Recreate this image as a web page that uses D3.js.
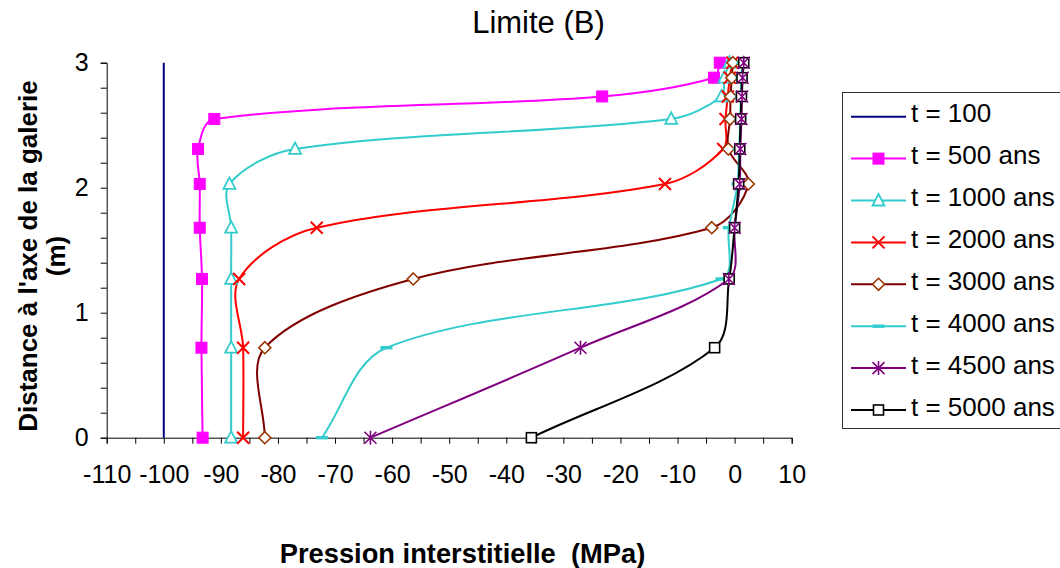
<!DOCTYPE html>
<html>
<head>
<meta charset="utf-8">
<script src="https://cdn.jsdelivr.net/npm/d3@7"></script>
<style>
  html, body { margin: 0; padding: 0; background: #fff; }
  svg { display: block; }
  text { font-family: "Liberation Sans", Arial, sans-serif; fill: #000; }
</style>
</head>
<body>
<svg id="chart" width="1060" height="568"></svg>
<script>
// ---------- DATA ----------
const nodeY = [0, 0.72, 1.27, 1.68, 2.03, 2.31, 2.55, 2.73, 2.88, 3.0];
const seriesNames = ["t = 100", "t = 500 ans", "t = 1000 ans", "t = 2000 ans",
                     "t = 3000 ans", "t = 4000 ans", "t = 4500 ans", "t = 5000 ans"];
const t100X = [-100, -100];
const t100Y = [0, 3];
const t500  = [-93.2, -93.4, -93.3, -93.7, -93.7, -94.0, -91.15, -23.2, -3.6, -2.6];
const t1000 = [-88.2, -88.2, -88.2, -88.2, -88.5, -77.0, -11.1, -2.3, -1.8, -0.9];
const t2000 = [-86.1, -86.1, -86.8, -73.2, -12.2, -2.0, -1.6, -1.2, -0.85, -0.4];
const t3000 = [-82.3, -82.3, -56.3, -4.0, 2.4, -1.1, -0.8, -0.7, -0.5, -0.3];
const t4000 = [-72.3, -61.0, -2.3, -1.0, 0.5, 0.8, 1.0, 1.1, 1.2, 1.4];
const t4500 = [-63.8, -27.0, -1.0, 0.0, 0.9, 1.0, 1.2, 1.3, 1.4, 1.6];
const t5000 = [-35.6, -3.5, -0.95, 0.0, 0.7, 0.9, 1.05, 1.2, 1.3, 1.6];
const xTicks = [-110, -100, -90, -80, -70, -60, -50, -40, -30, -20, -10, 0, 10];
const yTicks = [0, 1, 2, 3];

// ---------- STYLE ----------
const styles = [
  {line: "#000080", marker: null},
  {line: "#FF00FF", marker: "fsquare", mc: "#FF00FF"},
  {line: "#33CCCC", marker: "triangle", mc: "#33CCCC"},
  {line: "#FF0000", marker: "x", mc: "#FF0000"},
  {line: "#800000", marker: "diamond", mc: "#993300"},
  {line: "#33CCCC", marker: "dash", mc: "#33CCCC"},
  {line: "#800080", marker: "star", mc: "#800080"},
  {line: "#000000", marker: "hsquare", mc: "#000000"}
];

const series = [
  t100X.map((v, i) => [v, t100Y[i]]),
  t500.map((v, i) => [v, nodeY[i]]),
  t1000.map((v, i) => [v, nodeY[i]]),
  t2000.map((v, i) => [v, nodeY[i]]),
  t3000.map((v, i) => [v, nodeY[i]]),
  t4000.map((v, i) => [v, nodeY[i]]),
  t4500.map((v, i) => [v, nodeY[i]]),
  t5000.map((v, i) => [v, nodeY[i]])
];

const svg = d3.select("#chart");
svg.append("rect").attr("width", 1060).attr("height", 568).attr("fill", "#fff");

const x = d3.scaleLinear().domain([-110, 10]).range([106.7, 791.7]);
const y = d3.scaleLinear().domain([0, 3]).range([437.7, 62.7]);

// ---------- AXES ----------
const xAxis = d3.axisBottom(x)
  .tickValues(d3.range(0, 25).map(i => -110 + i * 5))
  .tickSize(6).tickPadding(22)
  .tickFormat(d => xTicks.includes(d) ? String(d) : "");
const gx = svg.append("g").attr("transform", `translate(0,${y(0)})`).call(xAxis);
gx.select(".domain").attr("stroke", "#000").attr("stroke-width", 1);
gx.selectAll(".tick line").attr("stroke", "#000");
gx.selectAll(".tick text").attr("font-size", 25).attr("font-family", "Liberation Sans, Arial, sans-serif");

const yAxis = d3.axisLeft(y)
  .tickValues(d3.range(0, 16).map(i => i * 0.2))
  .tickSize(6).tickPadding(12)
  .tickFormat(d => {
    const r = Math.round(d);
    return (Math.abs(d - r) < 1e-9 && yTicks.includes(r)) ? String(r) : "";
  });
const gy = svg.append("g").attr("transform", `translate(${x(-110)},0)`).call(yAxis);
gy.select(".domain").attr("stroke", "#000").attr("stroke-width", 1);
gy.selectAll(".tick line").attr("stroke", "#000");
gy.selectAll(".tick text").attr("font-size", 25).attr("font-family", "Liberation Sans, Arial, sans-serif");

// ---------- MARKERS ----------
function drawMarker(g, type, color, cx, cy) {
  switch (type) {
    case "fsquare":
      g.append("rect").attr("x", cx - 5.5).attr("y", cy - 5.5).attr("width", 11).attr("height", 11)
        .attr("fill", color).attr("stroke", color).attr("stroke-width", 1);
      break;
    case "triangle":
      g.append("path").attr("d", `M${cx},${cy - 6.5}L${cx + 6},${cy + 5}L${cx - 6},${cy + 5}Z`)
        .attr("fill", "#fff").attr("stroke", color).attr("stroke-width", 1.8);
      break;
    case "x":
      g.append("path").attr("d", `M${cx - 6},${cy - 6}L${cx + 6},${cy + 6}M${cx - 6},${cy + 6}L${cx + 6},${cy - 6}`)
        .attr("fill", "none").attr("stroke", color).attr("stroke-width", 2);
      break;
    case "diamond":
      g.append("path").attr("d", `M${cx},${cy - 6}L${cx + 6},${cy}L${cx},${cy + 6}L${cx - 6},${cy}Z`)
        .attr("fill", "#fff").attr("stroke", color).attr("stroke-width", 1.6);
      break;
    case "dash":
      g.append("rect").attr("x", cx - 6).attr("y", cy - 1.7).attr("width", 12).attr("height", 3.4)
        .attr("fill", color);
      break;
    case "star":
      g.append("path").attr("d", `M${cx - 6},${cy - 6}L${cx + 6},${cy + 6}M${cx - 6},${cy + 6}L${cx + 6},${cy - 6}M${cx},${cy - 7}L${cx},${cy + 7}`)
        .attr("fill", "none").attr("stroke", color).attr("stroke-width", 1.6);
      break;
    case "hsquare":
      g.append("rect").attr("x", cx - 5).attr("y", cy - 5).attr("width", 10).attr("height", 10)
        .attr("fill", "#fff").attr("stroke", color).attr("stroke-width", 1.6);
      break;
  }
}

// ---------- SMOOTH CURVE (spreadsheet-style Bezier smoothing) ----------
function SmoothCurve(context) { this._context = context; }
SmoothCurve.prototype = {
  areaStart() { this._line = 0; },
  areaEnd() { this._line = NaN; },
  lineStart() { this._pts = []; },
  point(px, py) { this._pts.push([+px, +py]); },
  lineEnd() {
    const p = this._pts, c = this._context, n = p.length;
    if (!n) return;
    c.moveTo(p[0][0], p[0][1]);
    if (n === 1) return;
    if (n === 2) { c.lineTo(p[1][0], p[1][1]); return; }
    const dist = (a, b) => Math.hypot(b[0] - a[0], b[1] - a[1]);
    for (let i = 0; i < n - 1; i++) {
      const P0 = p[i - 1] || p[i], P1 = p[i], P2 = p[i + 1], P3 = p[i + 2] || p[i + 1];
      const d01 = dist(P0, P1), d12 = dist(P1, P2), d23 = dist(P2, P3);
      const f1 = (d01 + d12) > 0 ? d12 / (d01 + d12) / 3 : 0;
      const f2 = (d12 + d23) > 0 ? d12 / (d12 + d23) / 3 : 0;
      const c1 = [P1[0] + (P2[0] - P0[0]) * f1, P1[1] + (P2[1] - P0[1]) * f1];
      const c2 = [P2[0] - (P3[0] - P1[0]) * f2, P2[1] - (P3[1] - P1[1]) * f2];
      c.bezierCurveTo(c1[0], c1[1], c2[0], c2[1], P2[0], P2[1]);
    }
  }
};
const smoothCurve = ctx => new SmoothCurve(ctx);

// ---------- LINES ----------
const line = d3.line().x(d => x(d[0])).y(d => y(d[1])).curve(smoothCurve);
const plot = svg.append("g");
series.forEach((pts, i) => {
  plot.append("path").attr("d", line(pts)).attr("fill", "none")
    .attr("stroke", styles[i].line).attr("stroke-width", 2);
});
// markers (4500 asterisks drawn last, visible inside the 5000 squares)
const markerOrder = [1, 2, 3, 4, 5, 7, 6];
markerOrder.forEach(i => {
  const st = styles[i];
  series[i].forEach(p => drawMarker(plot, st.marker, st.mc, x(p[0]), y(p[1])));
});

// ---------- TITLES ----------
svg.append("text").attr("x", 538.5).attr("y", 33).attr("text-anchor", "middle")
  .attr("font-size", 31).text("Limite (B)");
svg.append("text").attr("x", 462.5).attr("y", 563).attr("text-anchor", "middle")
  .attr("font-size", 27.3).attr("font-weight", "bold").style("white-space", "pre")
  .text("Pression interstitielle  (MPa)");
const yt = svg.append("text").attr("transform", "translate(0,256) rotate(-90)")
  .attr("text-anchor", "middle").attr("font-size", 26).attr("font-weight", "bold");
yt.append("tspan").attr("x", 0).attr("y", 37).text("Distance à l'axe de la galerie");
yt.append("tspan").attr("x", 0).attr("y", 65).text("(m)");

// ---------- LEGEND ----------
const lg = svg.append("g");
lg.append("rect").attr("x", 842.5).attr("y", 92.5).attr("width", 260).attr("height", 336)
  .attr("fill", "#fff").attr("stroke", "#333").attr("stroke-width", 1);
seriesNames.forEach((name, i) => {
  const ry = 116.7 + i * 41.9;
  lg.append("line").attr("x1", 851).attr("x2", 906).attr("y1", ry).attr("y2", ry)
    .attr("stroke", styles[i].line).attr("stroke-width", 2);
  if (styles[i].marker) drawMarker(lg, styles[i].marker, styles[i].mc, 878.5, ry);
  lg.append("text").attr("x", 911).attr("y", ry + 5.6).attr("font-size", 26)
    .style("white-space", "pre").text(name);
});
</script>
</body>
</html>
